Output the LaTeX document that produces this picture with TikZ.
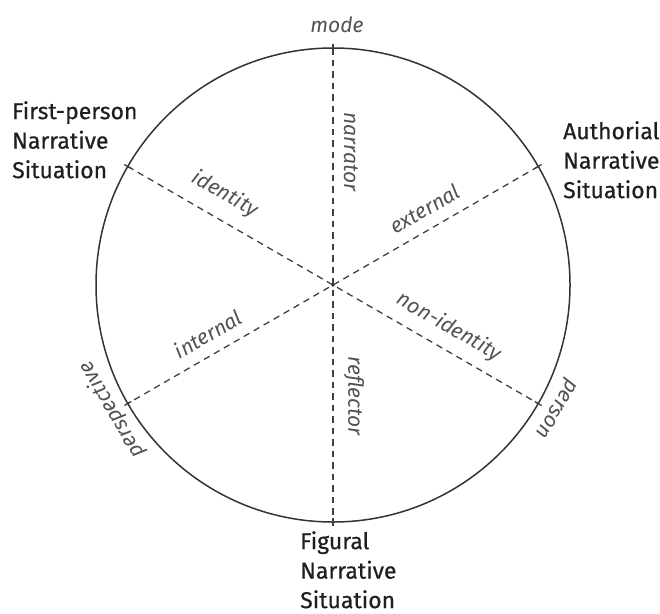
\documentclass[tikz,border=0pt]{standalone}
\usepackage{fontspec}
\setmainfont{Fira Sans}
\newfontfamily\headfont{Fira Sans}[FakeBold=0.5]
\usetikzlibrary{calc}
\begin{document}
\begin{tikzpicture}[x=1pt,y=-1pt,
  heading/.style={font=\headfont\fontsize{23}{29.5}\selectfont, text=black!88, align=left, inner sep=0pt, anchor=north west},
  lab/.style={font=\fontsize{21}{24}\selectfont\itshape, text=black!68, inner sep=0pt},
  rim/.style={line width=1.5pt, draw=black!80},
  spoke/.style={line width=1.3pt, draw=black!75, dash pattern=on 6.5pt off 5pt},
  tick/.style={line width=1.3pt, draw=black!75}]
\useasboundingbox (0,0) rectangle (660,613);
\coordinate (C) at (333,285);
\draw[rim] (C) circle[radius=237];
% spoke end points
\coordinate (T) at (333,48);
\coordinate (B) at (333,522);
\coordinate (UL) at ($(C)+(-205.2,-118.5)$);
\coordinate (LR) at ($(C)+(205.2,118.5)$);
\coordinate (UR) at ($(C)+(205.2,-118.5)$);
\coordinate (LL) at ($(C)+(-205.2,118.5)$);
\draw[spoke] (T) -- (B);
\draw[spoke] (UL) -- (LR);
\draw[spoke] (UR) -- (LL);
\foreach \p in {T,B,UL,LR,UR,LL}{
  \draw[tick] ($(\p)!4pt!(C)$) -- ($(\p)!-4pt!(C)$);
}
\fill[black!80] (C) circle[radius=1.8];
% headings
\node[heading] (fp) at (12,101) {First-person\\Narrative\\Situation};
\node[heading] (au) at (563,121) {Authorial\\Narrative\\Situation};
\node[heading] (fi) at (300,531) {Figural\\Narrative\\Situation};
% outer labels
\node[lab] (mode) at (337,25) {mode};
\node[lab, rotate=-120] (person) at (555,408) {person};
\node[lab, rotate=120] (persp) at (112,410) {perspective};
% inner labels
\node[lab, rotate=-90] (narr) at (351,152) {narrator};
\node[lab, rotate=-90] (refl) at (354,396) {reflector};
\node[lab, rotate=-30] (iden) at (225,194) {identity};
\node[lab, rotate=30] (ext) at (425,209) {external};
\node[lab, rotate=-30] (noni) at (449,327) {non-identity};
\node[lab, rotate=30] (int) at (208,334) {internal};
\end{tikzpicture}
\end{document}
